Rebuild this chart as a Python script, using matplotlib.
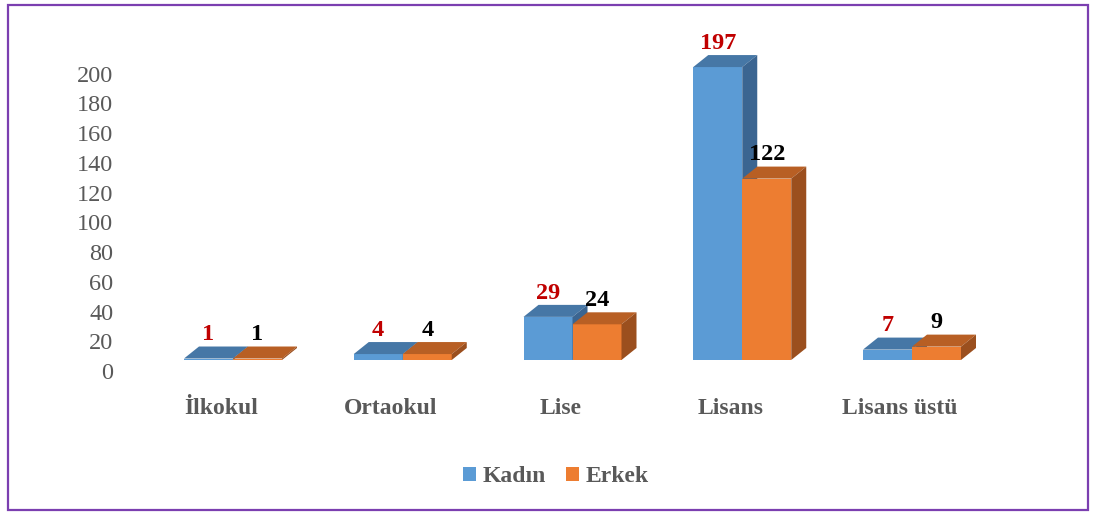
import matplotlib
matplotlib.use("Agg")
import matplotlib.pyplot as plt
from matplotlib.patches import Polygon, Rectangle, Patch
from matplotlib.transforms import ScaledTranslation

categories = ["İlkokul", "Ortaokul", "Lise", "Lisans", "Lisans üstü"]
kadin = [1, 4, 29, 197, 7]
erkek = [1, 4, 24, 122, 9]
series_names = ["Kadın", "Erkek"]
yticks = list(range(0, 201, 20))

W, H, DPI = 1096, 513, 100
fig = plt.figure(figsize=(W / DPI, H / DPI), dpi=DPI)
fig.patch.set_facecolor("white")

serif = ["Liberation Serif", "DejaVu Serif"]
gray = "#595959"

# axes placement in pixels
axl, axr, axt, axb = 130, 1000, 30, 380
ax = fig.add_axes([axl / W, 1 - axb / H, (axr - axl) / W, (axb - axt) / H])
ax.set_facecolor("none")

px_per_x = 169.75
x0_px = 233
xlim = ((axl - x0_px) / px_per_x, (axr - x0_px) / px_per_x)
px_per_y = 1.487
base_px = 360
ylim = (-(axb - base_px) / px_per_y, (base_px - axt) / px_per_y)
ax.set_xlim(*xlim)
ax.set_ylim(*ylim)

bw = 49 / px_per_x
ddx = 15 / px_per_x
ddy = 12 / px_per_y

front_cols = ["#5B9BD5", "#ED7D31"]
top_cols = ["#4677A6", "#B85F24"]
side_cols = ["#3B6591", "#9B4F1E"]
label_cols = ["#C00000", "#000000"]

for s, vals in enumerate([kadin, erkek]):
    for i, v in enumerate(vals):
        xl = i - bw + s * bw
        xr = xl + bw
        ax.add_patch(Rectangle((xl, 0), bw, v, facecolor=front_cols[s],
                               edgecolor="none", zorder=2 + s))
        ax.add_patch(Polygon([(xl, v), (xr, v), (xr + ddx, v + ddy), (xl + ddx, v + ddy)],
                             closed=True, facecolor=top_cols[s], edgecolor="none",
                             zorder=2 + s))
        ax.add_patch(Polygon([(xr, 0), (xr + ddx, ddy), (xr + ddx, v + ddy), (xr, v)],
                             closed=True, facecolor=side_cols[s], edgecolor="none",
                             zorder=2 + s))
        ax.annotate(str(v), xy=(xl + bw / 2, v + ddy), xytext=(0, 4.5),
                    textcoords="offset points", ha="center", va="baseline",
                    fontsize=17.5, fontweight="bold", color=label_cols[s],
                    family=serif, zorder=10)

for sp in ax.spines.values():
    sp.set_visible(False)

ax.set_yticks(yticks)
ax.set_yticklabels([str(t) for t in yticks], family=serif, fontsize=17.5, color=gray)
ax.tick_params(axis="y", length=0, pad=12)
for lab in ax.get_yticklabels():
    lab.set_transform(lab.get_transform() + ScaledTranslation(0, -11 / DPI, fig.dpi_scale_trans))

ax.set_xticks(range(len(categories)))
ax.set_xticklabels(categories, family=serif, fontsize=17, fontweight="bold", color=gray)
ax.tick_params(axis="x", length=0, pad=13)
for lab in ax.get_xticklabels():
    lab.set_transform(lab.get_transform() + ScaledTranslation(-12 / DPI, 0, fig.dpi_scale_trans))

handles = [Patch(facecolor=front_cols[0], edgecolor="none"),
           Patch(facecolor=front_cols[1], edgecolor="none")]
leg = fig.legend(handles, series_names, loc="center", bbox_to_anchor=(556 / W, 1 - 477 / H),
                 ncol=2, frameon=False, handlelength=0.54, handleheight=0.54,
                 handletextpad=0.28, columnspacing=0.85,
                 prop={"family": serif, "size": 17, "weight": "bold"})
for t in leg.get_texts():
    t.set_color(gray)

# outer border
fig.add_artist(Rectangle((8 / W, 1 - 510 / H), (1088 - 8) / W, (510 - 5) / H,
                         transform=fig.transFigure, facecolor="none",
                         edgecolor="#7B3FB0", linewidth=1.6))

fig.savefig("out.png", dpi=DPI)
